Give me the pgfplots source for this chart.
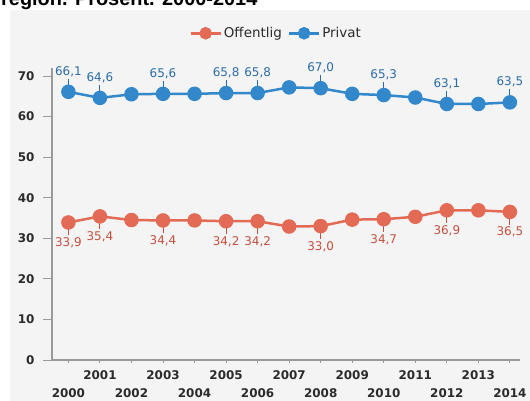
\documentclass[border=0pt]{standalone}
\usepackage{pgfplots}
\usepackage{pgfplotstable}
\pgfplotsset{compat=1.18}
\usepackage{fontspec}
\setmainfont{DejaVu Sans}
\newfontfamily\titlefont{Liberation Sans}
\definecolor{bg}{HTML}{F4F4F4}
\definecolor{priv}{HTML}{3388CC}
\definecolor{privtxt}{HTML}{2A6BA8}
\definecolor{pub}{HTML}{E36A55}
\definecolor{pubtxt}{HTML}{C4503F}
\definecolor{axisgray}{HTML}{9A9A9A}
\definecolor{ticktxt}{HTML}{2B2B2B}

\pgfplotstableread{
year priv pub
2000 66.1 33.9
2001 64.6 35.4
2002 65.5 34.5
2003 65.6 34.4
2004 65.6 34.4
2005 65.8 34.2
2006 65.8 34.2
2007 67.2 32.9
2008 67.0 33.0
2009 65.6 34.6
2010 65.3 34.7
2011 64.7 35.3
2012 63.1 36.9
2013 63.1 36.9
2014 63.5 36.5
}\datatable

\pgfplotstableread{
year priv pub
2000 66.1 33.9
2001 64.6 35.4
2003 65.6 34.4
2005 65.8 34.2
2006 65.8 34.2
2008 67.0 33.0
2010 65.3 34.7
2012 63.1 36.9
2014 63.5 36.5
}\labtable

\begin{document}
\begin{tikzpicture}
\path[use as bounding box] (0bp,0bp) rectangle (530bp,401bp);
\fill[bg] (10bp,0bp) rectangle (530bp,391bp);
\node[anchor=base west, inner sep=0, font=\titlefont\bfseries\fontsize{20}{20}\selectfont] at (1bp,395bp) {region. Prosent. 2000-2014};
\begin{axis}[
  at={(52bp,41bp)}, anchor=south west,
  scale only axis, width=468bp, height=291.7bp,
  xmin=1999.48, xmax=2014.32, ymin=0, ymax=71.9,
  axis x line*=bottom, axis y line*=left,
  axis line style={axisgray, line width=1.2bp},
  ytick={0,10,...,70},
  xtick={2001,2003,...,2013},
  extra x ticks={2000,2002,...,2014},
  extra x tick style={xticklabel style={yshift=-18bp}},
  tick align=outside,
  major tick length=9bp,
  ytick style={axisgray, line width=1bp},
  xtick style={axisgray, line width=1bp, dash pattern=on 0bp off 6bp on 3bp off 20bp},
  /pgf/number format/assume math mode=true,
  /pgf/number format/1000 sep={},
  tick label style={font=\bfseries\fontsize{12}{12}\selectfont, text=ticktxt},
  yticklabel style={xshift=-5bp},
  xticklabel style={yshift=2bp},
  legend style={at={(0.479,1.12)}, anchor=center, draw=none, fill=none,
    legend columns=-1, font=\fontsize{13.5}{14}\selectfont, text=ticktxt,
    /tikz/every even column/.append style={column sep=4bp}},
  legend image code/.code={\draw[mark repeat=2,mark phase=2,mark size=5bp,#1] plot coordinates {(0bp,0bp) (15bp,0bp) (30bp,0bp)};},
]
\addplot[pub, line width=2.5bp, mark=*, mark size=6bp, mark options={fill=pub, draw=pub, solid}] table[x=year,y=pub]{\datatable};
\addlegendentry{Offentlig}
\addplot[priv, line width=2.5bp, mark=*, mark size=6bp, mark options={fill=priv, draw=priv, solid}] table[x=year,y=priv]{\datatable};
\addlegendentry{Privat}

\addplot[forget plot, draw=none, mark=none,
  nodes near coords={\pgfmathprintnumber[fixed,fixed zerofill,precision=1,use comma,assume math mode=true]{\pgfplotspointmeta}},
  point meta=y,
  every node near coord/.append style={anchor=south, yshift=14bp, inner sep=1bp, font=\fontsize{12}{12}\selectfont, text=privtxt},
  error bars/.cd, y dir=plus, y explicit, error mark=none,
  error bar style={draw=privtxt, solid, line width=1bp}]
  table[x=year, y=priv, y error expr=3.2]{\labtable};

\addplot[forget plot, draw=none, mark=none,
  nodes near coords={\pgfmathprintnumber[fixed,fixed zerofill,precision=1,use comma,assume math mode=true]{\pgfplotspointmeta}},
  point meta=y,
  every node near coord/.append style={anchor=north, yshift=-14bp, inner sep=1bp, font=\fontsize{12}{12}\selectfont, text=pubtxt},
  error bars/.cd, y dir=minus, y explicit, error mark=none,
  error bar style={draw=pubtxt, solid, line width=1bp}]
  table[x=year, y=pub, y error expr=3.2]{\labtable};
\end{axis}
\end{tikzpicture}
\end{document}
